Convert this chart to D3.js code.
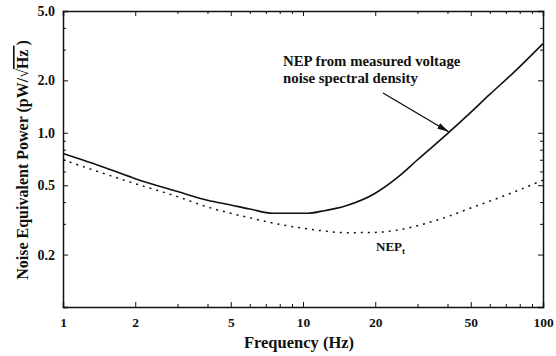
<!DOCTYPE html>
<html>
<head>
<meta charset="utf-8">
<script src="https://cdn.jsdelivr.net/npm/d3@7"></script>
<style>
  body { margin: 0; background: #fff; }
  svg text { font-family: "Liberation Serif", "Times New Roman", serif; font-weight: bold; fill: #111; }
  .axis path, .axis line { stroke: #111; }
  .axis path { stroke-width: 1.5; }
</style>
</head>
<body>
<div id="chart"></div>
<script>
// NEP from measured voltage noise spectral density (solid)
const freqMeasured = [1, 1.5, 2, 3, 4, 5, 6, 7.5, 10.5, 12, 15, 20, 25, 30, 40, 50, 60, 75, 100];
const nepMeasured = [0.76, 0.63, 0.545, 0.46, 0.41, 0.385, 0.365, 0.345, 0.345, 0.355, 0.38, 0.45, 0.56, 0.70, 0.99, 1.31, 1.66, 2.2, 3.25];

// NEP_t (dotted)
const freqT = [1, 1.5, 2, 3, 4, 5, 6, 8, 10, 12, 15, 20, 25, 30, 40, 50, 60, 75, 100];
const nepT = [0.70, 0.58, 0.51, 0.43, 0.375, 0.345, 0.325, 0.298, 0.283, 0.274, 0.267, 0.268, 0.277, 0.293, 0.33, 0.37, 0.405, 0.455, 0.535];

const xMajor = [1, 2, 5, 10, 20, 50, 100];
const xMinor = [3, 4, 6, 7, 8, 9, 30, 40, 60, 70, 80, 90];
const yMajor = [0.2, 0.5, 1.0, 2.0, 5.0];
const yMinor = [0.3, 0.4, 0.6, 0.7, 0.8, 0.9, 3, 4];

const W = 556, H = 356;
const margin = { top: 11, right: 13, bottom: 49, left: 63 };
const width = W - margin.left - margin.right;
const height = H - margin.top - margin.bottom;

const svg = d3.select('#chart').append('svg')
    .attr('width', W)
    .attr('height', H);

const g = svg.append('g')
    .attr('transform', `translate(${margin.left},${margin.top})`);

const x = d3.scaleLog().domain([1, 100]).range([0, width]);
const y = d3.scaleLog().domain([0.1, 5]).range([height, 0]);

// Axes: major ticks with labels (bottom/left), plain ticks on top/right, all pointing inward
g.append('g')
    .attr('class', 'axis')
    .attr('transform', `translate(0,${height})`)
    .call(d3.axisBottom(x).tickValues(xMajor).tickSize(-5).tickPadding(10).tickFormat(d3.format('d')))
    .call(a => a.selectAll('text').style('font-size', '13.5px'));

g.append('g')
    .attr('class', 'axis')
    .call(d3.axisTop(x).tickValues(xMajor).tickSize(-5).tickFormat(''));

g.append('g')
    .attr('class', 'axis')
    .call(d3.axisLeft(y).tickValues(yMajor).tickSize(-5).tickPadding(8).tickFormat(d3.format('.1f')))
    .call(a => a.selectAll('text').style('font-size', '14px'));

g.append('g')
    .attr('class', 'axis')
    .attr('transform', `translate(${width},0)`)
    .call(d3.axisRight(y).tickValues(yMajor).tickSize(-5).tickFormat(''));

// Minor ticks
g.append('g').attr('class', 'axis')
    .attr('transform', `translate(0,${height})`)
    .call(d3.axisBottom(x).tickValues(xMinor).tickSize(-3).tickFormat(''))
    .call(a => a.select('.domain').remove());
g.append('g').attr('class', 'axis')
    .call(d3.axisTop(x).tickValues(xMinor).tickSize(-3).tickFormat(''))
    .call(a => a.select('.domain').remove());
g.append('g').attr('class', 'axis')
    .call(d3.axisLeft(y).tickValues(yMinor).tickSize(-3).tickFormat(''))
    .call(a => a.select('.domain').remove());
g.append('g').attr('class', 'axis')
    .attr('transform', `translate(${width},0)`)
    .call(d3.axisRight(y).tickValues(yMinor).tickSize(-3).tickFormat(''))
    .call(a => a.select('.domain').remove());

// Curves
const line = d3.line()
    .x(d => x(d[0]))
    .y(d => y(d[1]))
    .curve(d3.curveMonotoneX);

g.append('path')
    .datum(d3.zip(freqMeasured, nepMeasured))
    .attr('fill', 'none')
    .attr('stroke', '#111')
    .attr('stroke-width', 1.6)
    .attr('d', line);

g.append('path')
    .datum(d3.zip(freqT, nepT))
    .attr('fill', 'none')
    .attr('stroke', '#111')
    .attr('stroke-width', 1.5)
    .attr('stroke-dasharray', '2,5')
    .attr('d', line);

// Axis titles
svg.append('text')
    .attr('x', 299)
    .attr('y', 348)
    .attr('text-anchor', 'middle')
    .style('font-size', '16.5px')
    .text('Frequency (Hz)');

const yTitle = svg.append('text')
    .attr('transform', `translate(28,160) rotate(-90)`)
    .attr('text-anchor', 'middle')
    .style('font-size', '16px');
yTitle.append('tspan').text('Noise Equivalent Power (pW/\u221A');
yTitle.append('tspan').style('text-decoration', 'overline').text('Hz\u00A0');
yTitle.append('tspan').text(')');

// Annotations
svg.append('text')
    .attr('x', 283).attr('y', 66)
    .style('font-size', '14.8px')
    .text('NEP from measured voltage');
svg.append('text')
    .attr('x', 283).attr('y', 83)
    .style('font-size', '14.8px')
    .text('noise spectral density');

svg.append('defs').append('marker')
    .attr('id', 'arrow')
    .attr('viewBox', '0 0 12 6')
    .attr('refX', 12).attr('refY', 3)
    .attr('markerWidth', 12).attr('markerHeight', 6)
    .attr('markerUnits', 'userSpaceOnUse')
    .attr('orient', 'auto')
    .append('path')
    .attr('d', 'M0,0 L12,3 L0,6 Z')
    .attr('fill', '#111');

svg.append('line')
    .attr('x1', 383).attr('y1', 93)
    .attr('x2', 449).attr('y2', 132)
    .attr('stroke', '#111')
    .attr('stroke-width', 1.4)
    .attr('marker-end', 'url(#arrow)');

const nept = svg.append('text')
    .attr('x', 376).attr('y', 251)
    .style('font-size', '13px');
nept.append('tspan').text('NEP');
nept.append('tspan').attr('dy', 3).style('font-size', '9px').text('t');
</script>
</body>
</html>
